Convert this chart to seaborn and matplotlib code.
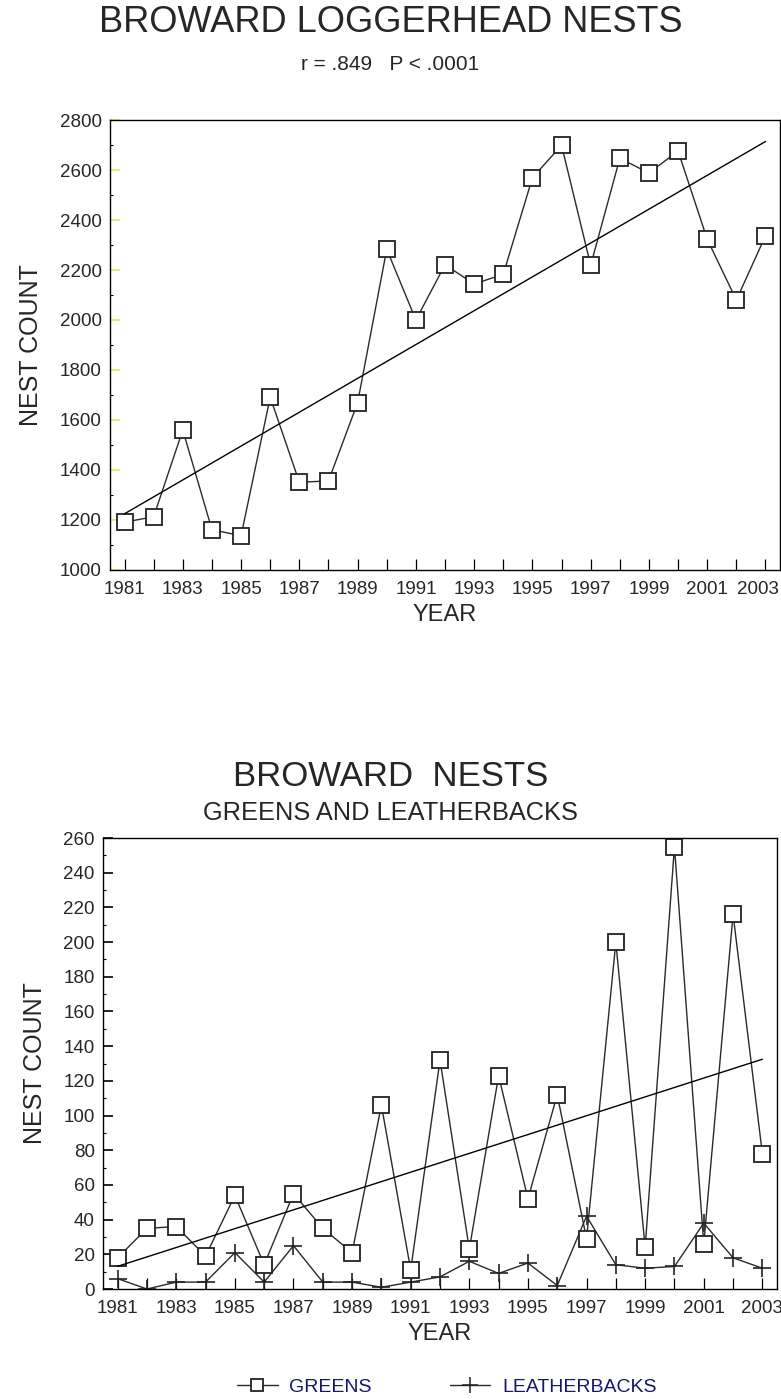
import numpy as np
import pandas as pd
import matplotlib
matplotlib.use("Agg")
import matplotlib.pyplot as plt
from matplotlib.ticker import MultipleLocator
from matplotlib.lines import Line2D
from matplotlib.transforms import ScaledTranslation
import seaborn as sns

# ---------------- data ----------------
years = list(range(1981, 2004))
loggerhead = [1191, 1213, 1560, 1161, 1137, 1691, 1351, 1356, 1669, 2283,
              2000, 2221, 2144, 2183, 2569, 2699, 2219, 2647, 2588, 2676,
              2323, 2080, 2337]
greens = [18, 35, 36, 19, 54, 14, 55, 35, 21, 106,
          11, 132, 23, 123, 52, 112, 29, 200, 24, 255,
          26, 216, 78]
leatherbacks = [6, 0, 4, 4, 21, 4, 25, 4, 4, 1,
                4, 7, 16, 9, 15, 2, 42, 14, 12, 13,
                38, 18, 12]
year_labels = [str(y) if (y - 1981) % 2 == 0 else "" for y in years]

title_top = "BROWARD LOGGERHEAD NESTS"
subtitle_top = "r = .849   P < .0001"
title_bot = "BROWARD  NESTS"
subtitle_bot = "GREENS AND LEATHERBACKS"
series_names = ["GREENS", "LEATHERBACKS"]

# ---------------- style ----------------
sns.set_style("white")
plt.rcParams["font.family"] = ["Liberation Sans", "DejaVu Sans"]

fig = plt.figure(figsize=(7.81, 13.99), dpi=100)
ax1 = fig.add_axes([0.1408, 0.5926, 0.858, 0.3216])
ax2 = fig.add_axes([0.1319, 0.0786, 0.863, 0.3224])

line_col = "#2a2a2a"
mk = dict(markerfacecolor="white", markeredgecolor="#222222", markeredgewidth=1.3)

df_top = pd.DataFrame({"YEAR": years, "COUNT": loggerhead})
sns.lineplot(data=df_top, x="YEAR", y="COUNT", ax=ax1, color=line_col,
             linewidth=1.0, marker="s", markersize=11, **mk)
sns.regplot(data=df_top, x="YEAR", y="COUNT", ax=ax1, scatter=False, ci=None,
            truncate=True, color="black", line_kws={"linewidth": 1.0})

df_bot = pd.DataFrame({"YEAR": years, "GREENS": greens, "LEATHERBACKS": leatherbacks})
sns.lineplot(data=df_bot, x="YEAR", y="LEATHERBACKS", ax=ax2, color=line_col,
             linewidth=1.0, marker="+", markersize=13, markeredgewidth=1.2,
             markeredgecolor="#222222")
sns.lineplot(data=df_bot, x="YEAR", y="GREENS", ax=ax2, color=line_col,
             linewidth=1.0, marker="s", markersize=11, **mk)
sns.regplot(data=df_bot, x="YEAR", y="GREENS", ax=ax2, scatter=False, ci=None,
            truncate=True, color="black", line_kws={"linewidth": 1.0})

for ax, ylim, major, minor, tickcol in [
        (ax1, (1000, 2800), 200, 100, "#e6e650"),
        (ax2, (0, 260), 20, 10, "black")]:
    ax.set_xlim(1980.5, 2003.5)
    ax.set_ylim(*ylim)
    ax.set_xticks(years)
    ax.set_xticklabels(year_labels)
    ax.yaxis.set_major_locator(MultipleLocator(major))
    ax.yaxis.set_minor_locator(MultipleLocator(minor))
    ax.tick_params(axis="x", direction="in", length=8, width=0.9, color="black",
                   pad=8, bottom=True, labelsize=13.5)
    ax.tick_params(axis="y", which="major", direction="in", length=7, width=1.2,
                   color=tickcol, pad=6, left=True, labelsize=13.5)
    ax.tick_params(axis="y", which="minor", direction="in", length=2.5, width=0.8,
                   color="black", left=True)
    for s in ax.spines.values():
        s.set_visible(True)
        s.set_color("black")
        s.set_linewidth(1.0)
    ax.set_xlabel("YEAR", fontsize=17, labelpad=4)
    ax.set_ylabel("NEST COUNT", fontsize=18, labelpad=12)
    ax.grid(False)

# keep the last year label of the upper chart inside the figure
last = ax1.get_xticklabels()[-1]
last.set_transform(last.get_transform() + ScaledTranslation(-8 / 100, 0, fig.dpi_scale_trans))

fig.text(0.5, 1 - 23 / 1399, title_top, ha="center", va="center", fontsize=26)
fig.text(0.5, 1 - 64 / 1399, subtitle_top, ha="center", va="center", fontsize=15)
fig.text(0.5, 1 - 776 / 1399, title_bot, ha="center", va="center", fontsize=25)
fig.text(0.5, 1 - 813 / 1399, subtitle_bot, ha="center", va="center", fontsize=18.3)

handles = [
    Line2D([], [], color=line_col, linewidth=1.0, marker="s", markersize=9, **mk),
    Line2D([], [], color=line_col, linewidth=1.0, marker="+", markersize=12,
           markeredgewidth=1.1, markeredgecolor="#222222"),
]
leg = fig.legend(handles, series_names, loc="center", ncol=2,
                 bbox_to_anchor=(0.572, 1 - 1387 / 1399), frameon=False,
                 fontsize=14, handlelength=2.1, handletextpad=0.6,
                 columnspacing=4.0)
for t in leg.get_texts():
    t.set_color("#16166e")

fig.savefig("out.png", dpi=100)
